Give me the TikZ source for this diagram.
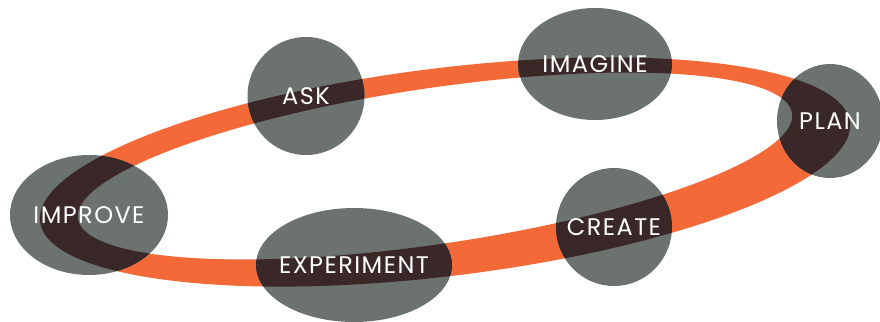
\documentclass[tikz,border=0pt]{standalone}
\usepackage{fontspec}
\newfontfamily\stagefont[LetterSpace=6]{Poppins}
\usetikzlibrary{shapes.geometric}

\definecolor{ringorange}{RGB}{243,106,56}
\definecolor{stagegrey}{RGB}{108,114,112}
\definecolor{overlap}{RGB}{58,40,40}

% the tilted loop: outer rim minus inner rim
\newcommand{\looppath}{(rimout) ellipse [x radius=408, y radius=104, rotate=7]
  (rimin) ellipse [x radius=361, y radius=78, rotate=8.4]}

\begin{document}
\begin{tikzpicture}[x=1pt, y=-1pt,
    stage/.style={ellipse, inner xsep=-30pt, inner ysep=0pt, fill=stagegrey, text=white,
                  font=\stagefont\fontsize{24}{24}\selectfont,
                  path picture={\fill[overlap, even odd rule] \looppath;}}]
  \useasboundingbox (0,0) rectangle (880,321);

  \coordinate (rimout) at (445,172);
  \coordinate (rimin)  at (435,166);
  \fill[ringorange, even odd rule] \looppath;

  \node[stage, minimum width=158, minimum height=120] (improve)    at (89,215)  {IMPROVE};
  \node[stage, minimum width=117, minimum height=118] (ask)        at (306,96)  {ASK};
  \node[stage, minimum width=154, minimum height=112] (imagine)    at (595,64)  {IMAGINE};
  \node[stage, minimum width=106, minimum height=114] (plan)       at (830,121) {PLAN};
  \node[stage, minimum width=116, minimum height=118] (create)     at (614,227) {CREATE};
  \node[stage, minimum width=196, minimum height=114] (experiment) at (354,265) {EXPERIMENT};
\end{tikzpicture}
\end{document}
